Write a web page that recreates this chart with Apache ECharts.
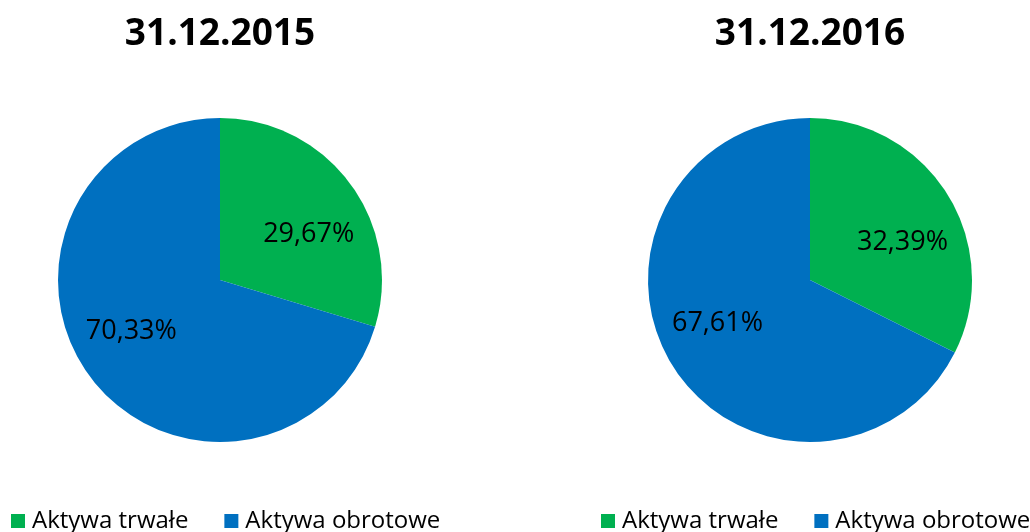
<!DOCTYPE html>
<html>
<head>
<meta charset="utf-8">
<script src="https://cdn.jsdelivr.net/npm/echarts@6/dist/echarts.min.js"></script>
<style>
html,body{margin:0;padding:0;background:#fff;}
#main{width:1030px;height:532px;}
</style>
</head>
<body>
<div id="main"></div>
<script>
var categories = ['Aktywa trwałe', 'Aktywa obrotowe'];
var dates = ['31.12.2015', '31.12.2016'];
var values2015 = [29.67, 70.33];
var values2016 = [32.39, 67.61];
var colors = ['#00B050', '#0070C0'];

window.onload = function () {
    var myChart = echarts.init(document.getElementById('main'));
    var font = 'Open Sans';
    var centers = [[220, 280], [810, 280]];
    var allValues = [values2015, values2016];

    function fmt(p) {
        return p.value.toFixed(2).replace('.', ',') + '%';
    }

    var series = [];
    allValues.forEach(function (vals, k) {
        // the pie itself
        series.push({
            type: 'pie',
            center: centers[k],
            radius: [0, 162],
            startAngle: 90,
            clockwise: true,
            silent: true,
            label: {show: false},
            labelLine: {show: false},
            data: categories.map(function (c, i) {
                return {name: c, value: vals[i], itemStyle: {color: colors[i]}};
            })
        });
        // transparent ring, only carries the percentage labels
        series.push({
            type: 'pie',
            center: centers[k],
            radius: [0, 196],
            startAngle: 82,
            clockwise: true,
            silent: true,
            z: 5,
            label: {
                show: true,
                position: 'inside',
                formatter: fmt,
                color: '#000',
                fontFamily: font,
                fontSize: 27,
                offset: [0, 3]
            },
            labelLine: {show: false},
            data: categories.map(function (c, i) {
                return {name: c, value: vals[i], itemStyle: {color: 'transparent'}};
            })
        });
    });

    var option = {
        animation: false,
        title: dates.map(function (d, k) {
            return {
                text: d,
                left: centers[k][0] - 5,
                top: 11,
                textAlign: 'center',
                textStyle: {fontFamily: font, fontWeight: 'bold', fontSize: 37, color: '#000'}
            };
        }),
        legend: [6, 596].map(function (x) {
            return {
                left: x,
                top: 504,
                width: 480,
                orient: 'horizontal',
                icon: 'rect',
                itemWidth: 14,
                itemHeight: 14,
                itemGap: 36,
                data: categories,
                selectedMode: false,
                textStyle: {fontFamily: font, fontSize: 24, color: '#000', padding: [0, 0, 0, 2]}
            };
        }),
        series: series
    };
    myChart.setOption(option);
};
</script>
</body>
</html>
